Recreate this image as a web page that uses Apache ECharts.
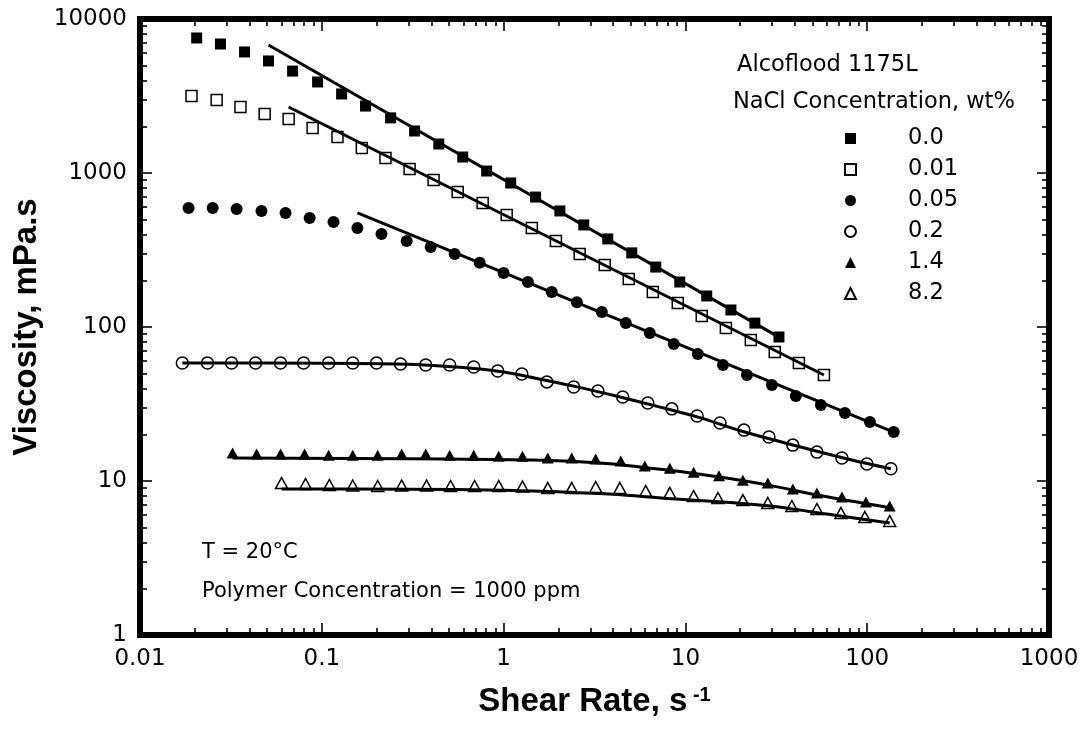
<!DOCTYPE html>
<html><head><meta charset="utf-8">
<script src="https://cdn.jsdelivr.net/npm/echarts@6/dist/echarts.min.js"></script>
<style>html,body{margin:0;padding:0;background:#fff}#c{width:1086px;height:730px}</style>
</head><body><div id="c"></div>
<script>
// ---- data ----
const seriesNames = ['0.0', '0.01', '0.05', '0.2', '1.4', '8.2'];

const shear00 = [0.0205,0.0277,0.0376,0.0509,0.0691,0.0948,0.1285,0.174,0.239,0.324,0.440,0.596,0.807,1.094,1.50,2.04,2.76,3.74,5.07,6.87,9.31,13.1,17.8,24.1,32.7];
const visc00  = [7530,6880,6110,5340,4590,3900,3260,2720,2280,1874,1543,1270,1030,861,698,567,460,373,303,245,196,159,129,106,86.1];

const shear001 = [0.0192,0.0264,0.0357,0.0485,0.0657,0.0890,0.122,0.166,0.224,0.304,0.412,0.559,0.767,1.04,1.43,1.94,2.62,3.60,4.88,6.62,9.08,12.3,16.7,22.9,31.0,42.1,57.8];
const visc001  = [3162,2979,2683,2418,2243,1960,1713,1453,1250,1061,901,753,638,534,439,362,298,253,205,169,143,118,98.6,82.4,68.8,58.4,48.8];

const shear005 = [0.0185,0.0251,0.0340,0.0466,0.0632,0.0857,0.116,0.157,0.213,0.293,0.397,0.538,0.739,1.00,1.36,1.84,2.53,3.47,4.70,6.37,8.63,11.7,16.1,21.8,29.9,40.5,55.6,75.4,103.5,140];
const visc005  = [593,593,584,567,550,510,481,439,402,362,331,298,261,224,196,169,145,125,106,91.4,77.6,66.8,56.7,48.8,42.0,35.6,31.2,27.6,24.2,20.8];

const shear02 = [0.0171,0.0235,0.0319,0.0432,0.0593,0.0794,0.109,0.148,0.200,0.271,0.373,0.505,0.685,0.928,1.26,1.73,2.43,3.30,4.52,6.21,8.42,11.6,15.5,21.0,28.8,39.0,52.9,72.6,99.6,135];
const visc02  = [58.4,58.4,58.4,58.4,58.4,58.4,58.4,58.4,58.4,57.5,56.7,56.7,55.0,51.8,49.5,44.0,40.8,38.4,35.1,32.1,29.4,26.4,23.8,21.4,19.3,17.1,15.4,14.1,12.9,12.0];

const shear14 = [0.0323,0.0438,0.0593,0.0804,0.109,0.148,0.203,0.275,0.373,0.505,0.685,0.940,1.27,1.75,2.37,3.21,4.41,5.98,8.21,11.1,15.3,20.7,28.4,39.0,52.9,72.6,98.4,133];
const visc14  = [15.2,15.0,15.0,15.0,14.7,14.7,14.7,15.0,15.0,14.7,14.7,14.5,14.5,14.1,14.1,13.9,13.5,12.5,12.1,11.4,10.8,10.1,9.70,8.87,8.36,7.87,7.31,6.88];

const shear82 = [0.0601,0.0814,0.110,0.148,0.203,0.275,0.377,0.511,0.693,0.940,1.27,1.75,2.37,3.21,4.36,6.05,8.21,11.1,15.1,20.7,28.4,38.5,52.9,71.7,97.1,133];
const visc82  = [9.70,9.56,9.42,9.35,9.28,9.35,9.35,9.28,9.28,9.28,9.21,9.01,9.01,9.14,9.01,8.61,8.36,7.99,7.75,7.52,7.20,6.88,6.58,6.20,5.84,5.50];

// fitted model curves
const fit00X = [0.0509, 32.7];          const fit00Y = [6780, 86];
const fit001X = [0.0657, 57.8];         const fit001Y = [2683, 48.8];
const fit005X = [0.157, 140];           const fit005Y = [550, 20.8];
const fit02X = [0.0171,0.1,0.3,0.6,1.0,1.5,2.5,4,7,12,20,40,80,135];
const fit02Y = [58.4,58.2,57.3,54.5,51,46.5,41,36,30.5,25.8,21.2,17.0,13.8,12.0];
const fit14X = [0.0323,0.5,1.8,4,6.1,10,15.5,30,52.9,133];
const fit14Y = [14.1,13.9,13.6,12.9,12.2,11.4,10.6,9.3,8.1,6.7];
const fit82X = [0.0601,0.3,1.0,2.0,4.0,8,16,30,60,133];
const fit82Y = [8.87,8.84,8.72,8.5,8.2,7.7,7.3,6.85,6.1,5.33];

// ticks
const xTickValues = [0.01, 0.1, 1, 10, 100, 1000];
const xTickLabels = ['0.01', '0.1', '1', '10', '100', '1000'];
const yTickValues = [1, 10, 100, 1000, 10000];
const yTickLabels = ['1', '10', '100', '1000', '10000'];
const xMinorTicks = [0.02,0.03,0.04,0.05,0.06,0.07,0.08,0.09,0.2,0.3,0.4,0.5,0.6,0.7,0.8,0.9,2,3,4,5,6,7,8,9,20,30,40,50,60,70,80,90,200,300,400,500,600,700,800,900];
const yMinorTicks = [2,3,4,5,6,7,8,9,20,30,40,50,60,70,80,90,200,300,400,500,600,700,800,900,2000,3000,4000,5000,6000,7000,8000,9000];

// ---- chart ----
const zip = (xs, ys) => xs.map((x, i) => [x, ys[i]]);
const TXT = 'DejaVu Sans, Verdana, sans-serif';
const BOLD = 'Liberation Sans, Arial, Helvetica, sans-serif';

function xAxis(position, tickVals, len, showLine, showLabel, extra) {
  return Object.assign({
    type: 'log', logBase: 10, min: 0.01, max: 1000, position: position,
    axisLine: { show: showLine, lineStyle: { color: '#000', width: 6, cap: 'square' } },
    axisTick: { show: true, inside: true, length: len, customValues: tickVals, lineStyle: { color: '#000', width: 1.6 } },
    axisLabel: showLabel ? {
      show: true, customValues: xTickValues, margin: 13, color: '#000', fontSize: 23, fontFamily: TXT,
      formatter: v => xTickLabels[xTickValues.findIndex(t => Math.abs(Math.log10(t) - Math.log10(v)) < 1e-6)]
    } : { show: false },
    splitLine: { show: false }, minorTick: { show: false }
  }, extra || {});
}
function yAxis(position, tickVals, len, showLine, showLabel, extra) {
  return Object.assign({
    type: 'log', logBase: 10, min: 1, max: 10000, position: position,
    axisLine: { show: showLine, lineStyle: { color: '#000', width: 6, cap: 'square' } },
    axisTick: { show: true, inside: true, length: len, customValues: tickVals, lineStyle: { color: '#000', width: 1.6 } },
    axisLabel: showLabel ? {
      show: true, customValues: yTickValues, margin: 13, color: '#000', fontSize: 23, fontFamily: TXT,
      formatter: v => yTickLabels[yTickValues.findIndex(t => Math.abs(Math.log10(t) - Math.log10(v)) < 1e-6)]
    } : { show: false },
    splitLine: { show: false }, minorTick: { show: false }
  }, extra || {});
}

const scatterDefs = [
  { name: '0.0',  x: shear00,  y: visc00,  symbol: 'rect',     size: 11, open: false },
  { name: '0.01', x: shear001, y: visc001, symbol: 'rect',     size: 11, open: true },
  { name: '0.05', x: shear005, y: visc005, symbol: 'circle',   size: 12, open: false },
  { name: '0.2',  x: shear02,  y: visc02,  symbol: 'circle',   size: 12, open: true },
  { name: '1.4',  x: shear14,  y: visc14,  symbol: 'triangle', size: [12, 11], open: false },
  { name: '8.2',  x: shear82,  y: visc82,  symbol: 'triangle', size: [12, 11], open: true }
];
const fitDefs = [
  { x: fit00X, y: fit00Y, smooth: false }, { x: fit001X, y: fit001Y, smooth: false },
  { x: fit005X, y: fit005Y, smooth: false }, { x: fit02X, y: fit02Y, smooth: 0.3 },
  { x: fit14X, y: fit14Y, smooth: 0.3 }, { x: fit82X, y: fit82Y, smooth: 0.3 }
];

const series = [];
scatterDefs.forEach(d => {
  series.push({
    name: d.name, type: 'scatter', xAxisIndex: 0, yAxisIndex: 0,
    symbol: d.symbol, symbolSize: d.size, z: 2,
    itemStyle: d.open ? { color: 'rgba(255,255,255,0)', borderColor: '#000', borderWidth: 1.5, opacity: 1 }
                      : { color: '#000', borderWidth: 0, opacity: 1 },
    data: zip(d.x, d.y)
  });
});
fitDefs.forEach((d, i) => {
  series.push({
    name: 'fit ' + seriesNames[i], type: 'line', xAxisIndex: 0, yAxisIndex: 0,
    showSymbol: false, smooth: d.smooth, z: 3,
    lineStyle: { color: '#000', width: 3 },
    data: zip(d.x, d.y)
  });
});

const chart = echarts.init(document.getElementById('c'), null, { renderer: 'canvas' });
chart.setOption({
  animation: false,
  backgroundColor: '#fff',
  grid: { left: 140, right: 37, top: 19, bottom: 95, containLabel: false },
  xAxis: [
    xAxis('bottom', xTickValues, 12, true, true, {
      name: '{a|Shear Rate, s}{b| -1}', nameLocation: 'middle', nameGap: 50,
      nameTextStyle: { rich: {
        a: { fontSize: 33, fontWeight: 'bold', fontFamily: BOLD, color: '#000' },
        b: { fontSize: 20, fontWeight: 'bold', fontFamily: BOLD, color: '#000', verticalAlign: 'top', padding: [0, 0, 14, 0] }
      } }
    }),
    xAxis('bottom', xMinorTicks, 7, false, false),
    xAxis('top', xTickValues, 12, true, false),
    xAxis('top', xMinorTicks, 7, false, false)
  ],
  yAxis: [
    yAxis('left', yTickValues, 12, true, true, {
      name: 'Viscosity, mPa.s', nameLocation: 'middle', nameGap: 95,
      nameTextStyle: { fontSize: 33, fontWeight: 'bold', fontFamily: BOLD, color: '#000' }
    }),
    yAxis('left', yMinorTicks, 7, false, false),
    yAxis('right', yTickValues, 12, true, false),
    yAxis('right', yMinorTicks, 7, false, false)
  ],
  legend: {
    data: seriesNames, orient: 'vertical', left: 839, top: 122,
    itemWidth: 11, itemHeight: 11, itemGap: 8,
    formatter: n => '{p|}' + n,
    textStyle: { color: '#000', fontSize: 22.5, fontFamily: TXT, lineHeight: 22, rich: { p: { width: 47 } } },
    selectedMode: false
  },
  graphic: [
    { type: 'text', x: 737, y: 65, style: { text: 'Alcoflood 1175L', fill: '#000', font: '22.5px ' + TXT, verticalAlign: 'middle', align: 'left' } },
    { type: 'text', x: 733, y: 102, style: { text: 'NaCl Concentration, wt%', fill: '#000', font: '22.5px ' + TXT, verticalAlign: 'middle', align: 'left' } },
    { type: 'text', x: 202, y: 553, style: { text: 'T = 20°C', fill: '#000', font: '21px ' + TXT, verticalAlign: 'middle', align: 'left' } },
    { type: 'text', x: 202, y: 592, style: { text: 'Polymer Concentration = 1000 ppm', fill: '#000', font: '21px ' + TXT, verticalAlign: 'middle', align: 'left' } }
  ],
  series: series
});
</script></body></html>
